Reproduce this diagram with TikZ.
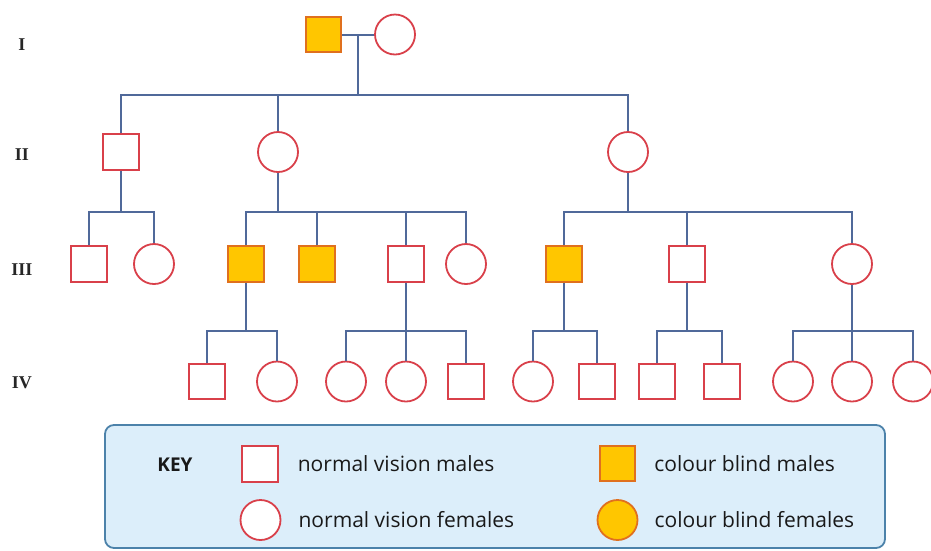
\documentclass[tikz,border=0pt]{standalone}
\usepackage{fontspec}
\setmainfont{Liberation Serif}
\setsansfont{Open Sans}
\usetikzlibrary{positioning,calc}

\definecolor{normred}{HTML}{D9404A}
\definecolor{cbfill}{HTML}{FFC600}
\definecolor{cbline}{HTML}{E0701E}
\definecolor{linkblue}{HTML}{50699A}
\definecolor{keyfill}{HTML}{DCEEFA}
\definecolor{keyline}{HTML}{4C82AA}

\begin{document}
\begin{tikzpicture}[x=1pt,y=-1pt,
	male/.style={draw=normred,line width=1.8pt,fill=white,minimum size=35.5pt,inner sep=0pt},
	female/.style={circle,draw=normred,line width=1.8pt,fill=white,minimum size=40pt,inner sep=0pt},
	cbmale/.style={male,draw=cbline,fill=cbfill},
	cbfemale/.style={female,draw=cbline,fill=cbfill},
	link/.style={draw=linkblue,line width=2pt},
	gen/.style={font=\fontsize{18}{18}\selectfont\bfseries,text=black!85},
	keytext/.style={inner sep=0pt,font=\sffamily\fontsize{21}{21}\selectfont,text=black!90}]
	\path[use as bounding box] (0,0) rectangle (931,550);

	% generation labels
	\node[gen] (g1) at (22,45) {I};
	\node[gen] (g2) at (22,155) {II};
	\node[gen] (g3) at (22,270) {III};
	\node[gen] (g4) at (22,383) {IV};

	% I
	\node[cbmale] (i1) at (323.5,34.5) {};
	\node[female] (i2) at (395,34.5) {};

	% II
	\node[male] (ii1) at (121,152) {};
	\node[female] (ii2) at (278,152) {};
	\node[female] (ii3) at (628,152) {};

	% III
	\node[male] (iii1) at (89,264) {};
	\node[female] (iii2) at (154,264) {};
	\node[cbmale] (iii3) at (246,264) {};
	\node[cbmale] (iii4) at (317,264) {};
	\node[male] (iii5) at (406,264) {};
	\node[female] (iii6) at (466,264) {};
	\node[cbmale] (iii7) at (564,264) {};
	\node[male] (iii8) at (687,264) {};
	\node[female] (iii9) at (852,264) {};

	% IV
	\node[male] (iv1) at (207,381.5) {};
	\node[female] (iv2) at (277,381.5) {};
	\node[female] (iv3) at (346,381.5) {};
	\node[female] (iv4) at (406,381.5) {};
	\node[male] (iv5) at (466,381.5) {};
	\node[female] (iv6) at (533,381.5) {};
	\node[male] (iv7) at (597,381.5) {};
	\node[male] (iv8) at (657,381.5) {};
	\node[male] (iv9) at (722,381.5) {};
	\node[female] (iv10) at (793,381.5) {};
	\node[female] (iv11) at (852,381.5) {};
	\node[female] (iv12) at (913,381.5) {};

	% sibship bars
	\coordinate (b1) at (0,95);
	\coordinate (b2) at (0,212);
	\coordinate (b3) at (0,331);

	% I -> II
	\draw[link] (i1) -- (i2);
	\coordinate (m1) at ($(i1.east)!.5!(i2.west)$);
	\draw[link] (m1) -- (m1 |- b1);
	\draw[link] (ii1) -- (ii1 |- b1) -- (ii3 |- b1) -- (ii3);
	\draw[link] (ii2) -- (ii2 |- b1);

	% II -> III
	\draw[link] (ii1) -- (ii1 |- b2);
	\draw[link] (iii1) -- (iii1 |- b2) -- (iii2 |- b2) -- (iii2);
	\draw[link] (ii2) -- (ii2 |- b2);
	\draw[link] (iii3) -- (iii3 |- b2) -- (iii6 |- b2) -- (iii6);
	\draw[link] (iii4) -- (iii4 |- b2);
	\draw[link] (iii5) -- (iii5 |- b2);
	\draw[link] (ii3) -- (ii3 |- b2);
	\draw[link] (iii7) -- (iii7 |- b2) -- (iii9 |- b2) -- (iii9);
	\draw[link] (iii8) -- (iii8 |- b2);

	% III -> IV
	\draw[link] (iii3) -- (iii3 |- b3);
	\draw[link] (iv1) -- (iv1 |- b3) -- (iv2 |- b3) -- (iv2);
	\draw[link] (iii5) -- (iii5 |- b3);
	\draw[link] (iv3) -- (iv3 |- b3) -- (iv5 |- b3) -- (iv5);
	\draw[link] (iv4) -- (iv4 |- b3);
	\draw[link] (iii7) -- (iii7 |- b3);
	\draw[link] (iv6) -- (iv6 |- b3) -- (iv7 |- b3) -- (iv7);
	\draw[link] (iii8) -- (iii8 |- b3);
	\draw[link] (iv8) -- (iv8 |- b3) -- (iv9 |- b3) -- (iv9);
	\draw[link] (iii9) -- (iii9 |- b3);
	\draw[link] (iv10) -- (iv10 |- b3) -- (iv12 |- b3) -- (iv12);
	\draw[link] (iv11) -- (iv11 |- b3);

	% key
	\draw[fill=keyfill,draw=keyline,line width=1.8pt,rounded corners=9pt] (105,425) rectangle (885,548);
	\node[keytext,font=\sffamily\bfseries\fontsize{19}{19}\selectfont] (key) at (175,465) {KEY};
	\node[male] (kM) at (260,464) {};
	\node[female] (kF) at (260.5,520) {};
	\node[cbmale] (kCM) at (617.5,463.5) {};
	\node[cbfemale] (kCF) at (617.5,520) {};
	\node[keytext,right=19pt of kM] {normal vision males};
	\node[keytext,right=17pt of kF] {normal vision females};
	\node[keytext,right=18pt of kCM] {colour blind males};
	\node[keytext,right=16pt of kCF] {colour blind females};
\end{tikzpicture}
\end{document}
